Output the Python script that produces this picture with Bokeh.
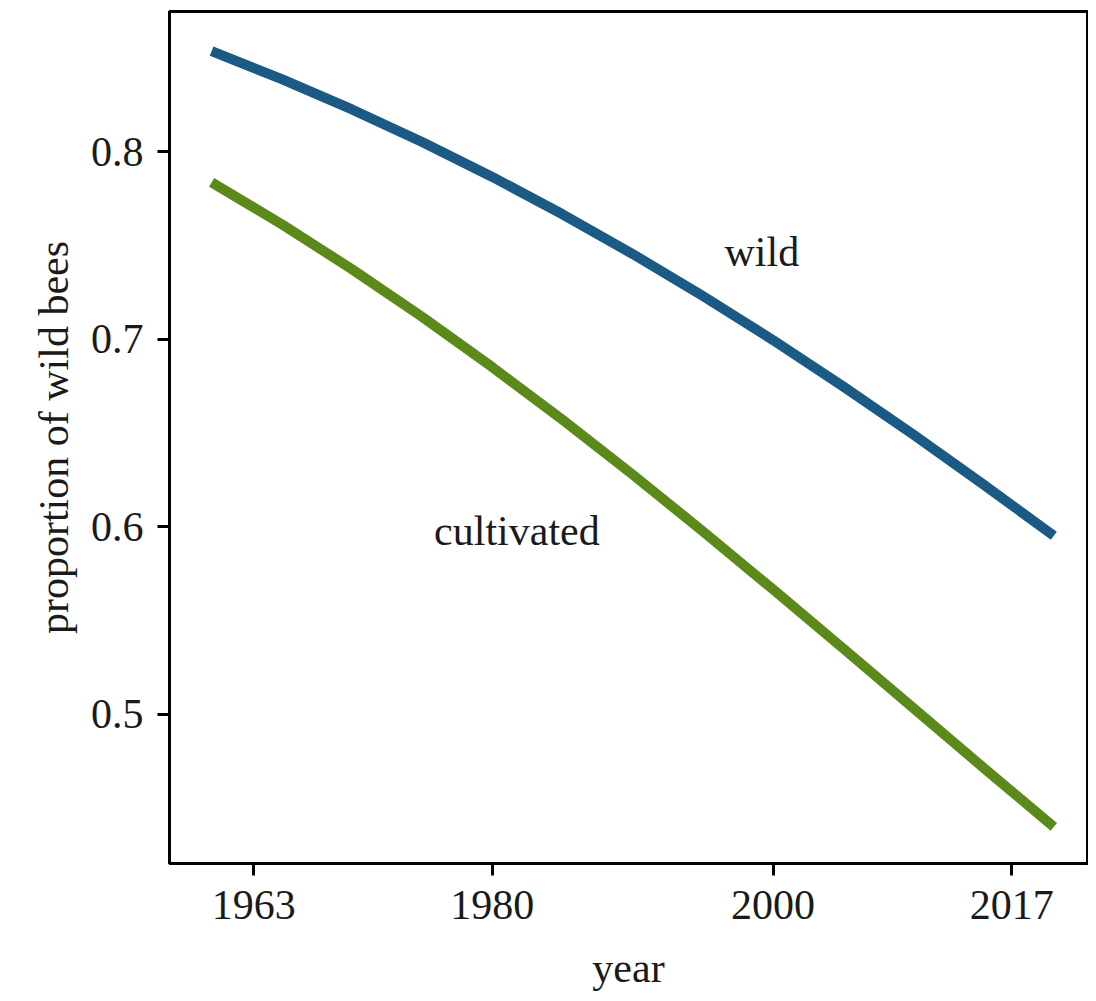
from bokeh.plotting import figure
from bokeh.models import Range1d, FixedTicker, Label
from bokeh.embed import file_html
from bokeh.resources import INLINE

years = [1960, 1965, 1970, 1975, 1980, 1985, 1990, 1995, 2000, 2005, 2010, 2015, 2020]
wild = [0.8536, 0.8386, 0.8225, 0.8051, 0.7865, 0.7666, 0.7454, 0.7230, 0.6995, 0.6748, 0.6491, 0.6225, 0.5952]
cultivated = [0.7836, 0.7613, 0.7373, 0.7119, 0.6851, 0.6570, 0.6278, 0.5976, 0.5666, 0.5351, 0.5033, 0.4715, 0.4400]
x_ticks = [1963, 1980, 2000, 2017]
y_ticks = [0.5, 0.6, 0.7, 0.8]

FONT = "Liberation Serif"
FS = "42px"
TXT = "#1a1a1a"

p = figure(width=1088, height=993, output_backend="svg", toolbar_location=None,
           x_range=Range1d(1957.0, 2022.4), y_range=Range1d(0.4205, 0.8747),
           min_border_left=169, min_border_right=1, min_border_top=11, min_border_bottom=119)

p.line(years, wild, line_color="#1b5a85", line_width=10, line_cap="butt", line_join="round")
p.line(years, cultivated, line_color="#5c8a1a", line_width=10, line_cap="butt", line_join="round")

p.add_layout(Label(x=1999.2, y=0.7465, text="wild", text_font=FONT, text_font_size=FS,
                   text_color=TXT, text_align="center", text_baseline="middle"))
p.add_layout(Label(x=1981.75, y=0.598, text="cultivated", text_font=FONT, text_font_size=FS,
                   text_color=TXT, text_align="center", text_baseline="middle"))

p.xgrid.visible = False
p.ygrid.visible = False
p.outline_line_color = "black"
p.outline_line_width = 3
p.background_fill_color = "white"
p.border_fill_color = "white"

for ax, ticks in ((p.xaxis, x_ticks), (p.yaxis, y_ticks)):
    ax.ticker = FixedTicker(ticks=ticks)
    ax.minor_tick_line_color = None
    ax.major_tick_in = 0
    ax.major_tick_out = 12
    ax.major_tick_line_width = 3
    ax.major_tick_line_color = "black"
    ax.axis_line_color = "black"
    ax.axis_line_width = 3
    ax.major_label_text_font = FONT
    ax.major_label_text_font_size = FS
    ax.major_label_text_color = TXT
    ax.axis_label_text_font = FONT
    ax.axis_label_text_font_size = FS
    ax.axis_label_text_color = TXT
    ax.axis_label_text_font_style = "normal"

p.xaxis.axis_label = "year"
p.yaxis.axis_label = "proportion of wild bees"
p.xaxis.major_label_standoff = 15
p.yaxis.major_label_standoff = 14
p.xaxis.axis_label_standoff = 23
p.yaxis.axis_label_standoff = 11

open("out.html", "w").write(file_html(p, INLINE))
